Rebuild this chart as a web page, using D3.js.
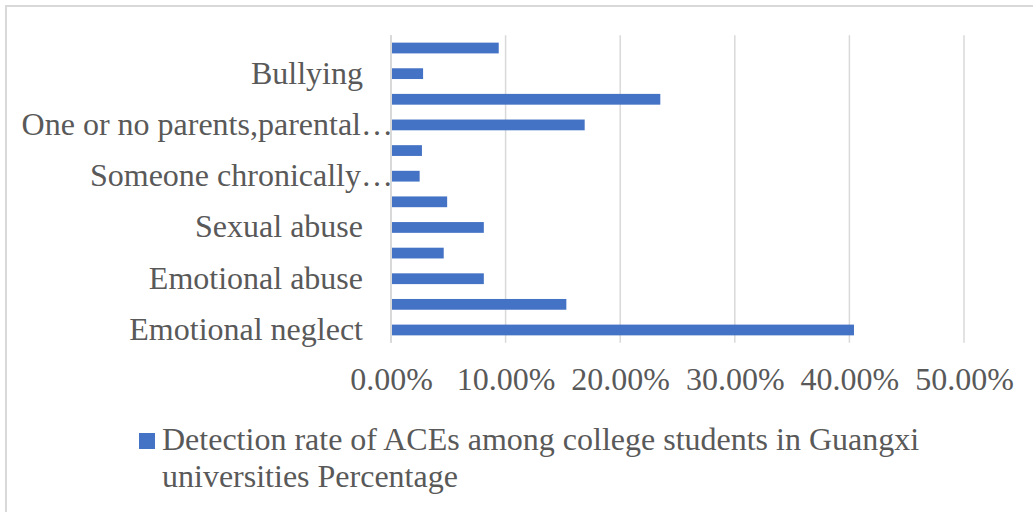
<!DOCTYPE html>
<html>
<head>
<meta charset="utf-8">
<script src="https://cdn.jsdelivr.net/npm/d3@7"></script>
<style>
  body { margin: 0; background: #fff; }
  svg text { font-family: "Liberation Serif", "Times New Roman", serif; fill: #595959; }
</style>
</head>
<body>
<div id="chart"></div>
<script>
// categories, bottom to top (as Excel lists them)
const categories = [
  "Emotional neglect",
  "Physical neglect",
  "Emotional abuse",
  "Physical abuse",
  "Sexual abuse",
  "Violence against household members",
  "Someone chronically depressed, mentally ill or suicidal",
  "Incarcerated household member",
  "One or no parents,parental separation or divorce",
  "Community violence",
  "Bullying",
  "Collective violence"
];
// detection rate (fraction)
const rates = [0.404, 0.153, 0.081, 0.046, 0.081, 0.049, 0.025, 0.027, 0.169, 0.235, 0.028, 0.094];
// only every second category gets a label, as in the original
const tickLabels = [
  "Emotional neglect", "", "Emotional abuse", "", "Sexual abuse", "",
  "Someone chronically…", "", "One or no parents,parental…", "", "Bullying", ""
];
const xTicks = [0, 0.1, 0.2, 0.3, 0.4, 0.5];
const seriesName = "Detection rate of ACEs among college students in Guangxi universities Percentage";

const width = 1033, height = 512;
const margin = {top: 35.2, right: 69, bottom: 169.2, left: 391};
const fontSize = 32;

const svg = d3.select("#chart").append("svg")
    .attr("width", width)
    .attr("height", height);

// chart border (right/bottom edges fall outside the picture)
svg.append("rect")
    .attr("x", 6).attr("y", 6)
    .attr("width", 1050).attr("height", 530)
    .attr("fill", "none")
    .attr("stroke", "#d9d9d9")
    .attr("stroke-width", 2);

const x = d3.scaleLinear()
    .domain([0, 0.5])
    .range([margin.left, width - margin.right]);

const y = d3.scaleBand()
    .domain(d3.range(categories.length).reverse())
    .range([margin.top, height - margin.bottom])
    .paddingInner(0.58)
    .paddingOuter(0.29);

// gridlines
svg.append("g")
    .selectAll("line")
    .data(xTicks)
    .join("line")
      .attr("x1", d => x(d))
      .attr("x2", d => x(d))
      .attr("y1", margin.top)
      .attr("y2", height - margin.bottom)
      .attr("stroke", "#d9d9d9")
      .attr("stroke-width", 1.5);

// x axis labels
const xAxis = svg.append("g")
    .attr("transform", `translate(0,${height - margin.bottom})`)
    .call(d3.axisBottom(x).tickValues(xTicks).tickFormat(d => (d * 100).toFixed(2) + "%").tickSize(0).tickPadding(0));
xAxis.select(".domain").remove();
xAxis.selectAll("text")
    .attr("y", 47)
    .attr("dy", null)
    .attr("font-size", fontSize)
    .attr("fill", "#595959");

// bars
svg.append("g")
    .attr("fill", "#4472c4")
    .selectAll("rect")
    .data(rates)
    .join("rect")
      .attr("x", x(0))
      .attr("y", (d, i) => y(i))
      .attr("width", d => x(d) - x(0))
      .attr("height", y.bandwidth());

// category labels
const yAxis = svg.append("g")
    .attr("transform", `translate(${margin.left},0)`)
    .call(d3.axisLeft(y).tickFormat(i => tickLabels[i]).tickSize(0).tickPadding(28));
yAxis.select(".domain").remove();
yAxis.selectAll("text")
    .attr("font-size", fontSize)
    .attr("fill", "#595959")
    .attr("dy", 10)
    .attr("x", function(i) { return tickLabels[i].endsWith("…") ? 2 : -28; });

// axis line at zero
svg.append("line")
    .attr("x1", x(0)).attr("x2", x(0))
    .attr("y1", margin.top).attr("y2", height - margin.bottom)
    .attr("stroke", "#d9d9d9")
    .attr("stroke-width", 2);

// legend
const legend = svg.append("g");
legend.append("rect")
    .attr("x", 139).attr("y", 433)
    .attr("width", 16).attr("height", 16)
    .attr("fill", "#4472c4");
legend.append("text")
    .attr("x", 162).attr("y", 450)
    .attr("font-size", fontSize)
    .text(seriesName.slice(0, seriesName.indexOf(" universities")));
legend.append("text")
    .attr("x", 162).attr("y", 487)
    .attr("font-size", fontSize)
    .text(seriesName.slice(seriesName.indexOf(" universities") + 1));
</script>
</body>
</html>
